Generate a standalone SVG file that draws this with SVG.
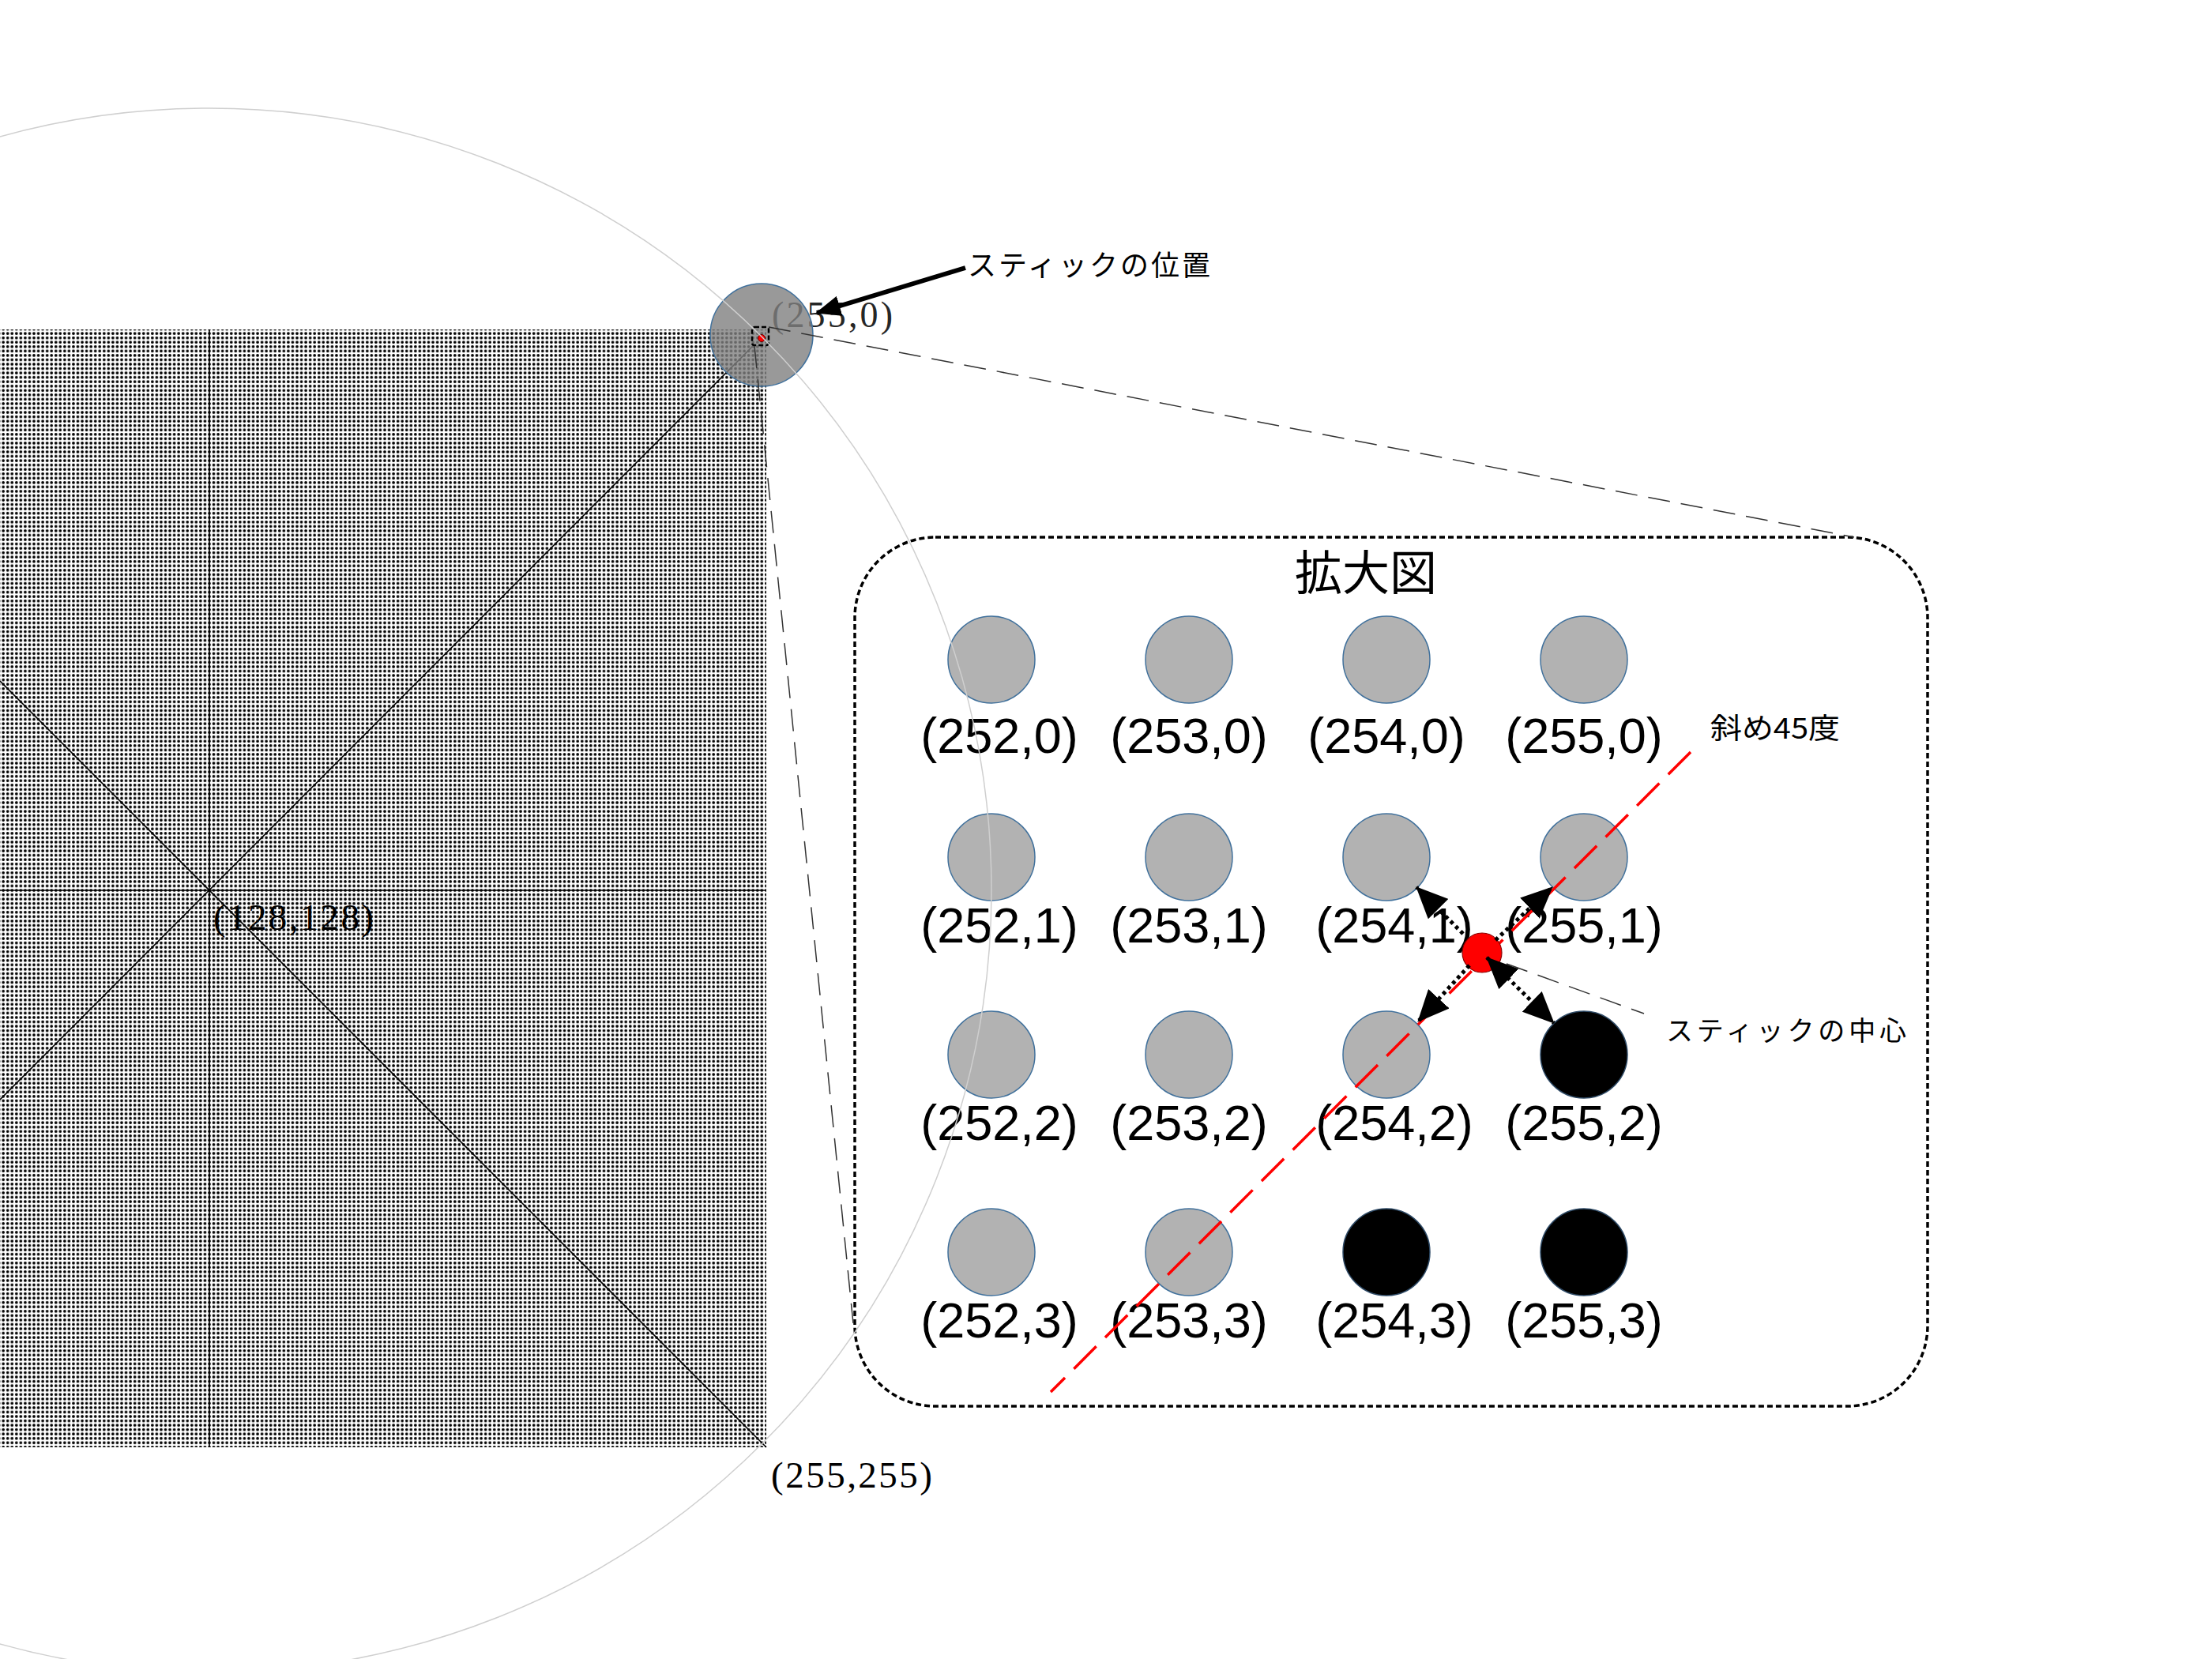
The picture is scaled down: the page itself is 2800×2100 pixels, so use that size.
<svg xmlns="http://www.w3.org/2000/svg" width="2800" height="2100" viewBox="0 0 2800 2100">
<style>
.serif{font-family:"Liberation Serif","Noto Sans CJK JP",serif;}
.jp{font-family:"Noto Sans CJK JP",sans-serif;fill:#000;}
.lbl{font-family:"Liberation Sans",Arial,sans-serif;font-size:63px;fill:#000;text-anchor:middle;}
.px{fill:#b2b2b2;stroke:#41719c;stroke-width:1.5;}
.pxb{fill:#000;stroke:#2e4a66;stroke-width:1.5;}
.axis{stroke:#000;stroke-width:1.6;fill:none;}
.thin-dash{stroke:#333;stroke-width:1.5;stroke-dasharray:28 14;fill:none;}
.dotarrow{stroke:#000;stroke-width:5;stroke-dasharray:4.5 4.5;fill:none;}
</style>
<defs>
<pattern id="dots" patternUnits="userSpaceOnUse" x="262.225" y="1124.225" width="5.55" height="5.55">
<circle cx="2.775" cy="2.775" r="1.85" fill="#000"/>
</pattern>
<marker id="ahBig" markerUnits="userSpaceOnUse" viewBox="0 0 32 26" markerWidth="32" markerHeight="26" refX="30" refY="13" orient="auto">
<path d="M0,0 L32,13 L0,26 Z" fill="#000"/>
</marker>
<marker id="ah" markerUnits="userSpaceOnUse" viewBox="0 0 40 36" markerWidth="40" markerHeight="36" refX="39" refY="18" orient="auto-start-reverse">
<path d="M0,0 L40,18 L0,36 Z" fill="#000"/>
</marker>
</defs>
<rect width="2800" height="2100" fill="#fff"/>

<g id="stick-range">
<rect x="-10" y="417" width="980" height="1415" fill="url(#dots)"/>
<line class="axis" x1="265" y1="417" x2="265" y2="1832"/>
<line class="axis" x1="0" y1="1127" x2="970" y2="1127"/>
<line class="axis" x1="0" y1="1392" x2="955" y2="436"/>
<line class="axis" x1="0" y1="862" x2="970" y2="1832"/>
<text class="serif" x="270" y="1177" font-size="47" textLength="203" lengthAdjust="spacing">(128,128)</text>
<text class="serif" x="976" y="1883" font-size="47" textLength="204" lengthAdjust="spacing">(255,255)</text>
</g>

<g id="stick-position">
<text class="serif" x="977" y="414" font-size="46" fill="#262626" textLength="153" lengthAdjust="spacing">(255,0)</text>
<circle cx="964" cy="424" r="65" fill="#808080" fill-opacity="0.8" stroke="#41719c" stroke-width="1.5"/>
<rect x="952" y="414" width="21" height="23" rx="3" fill="none" stroke="#000" stroke-width="2.5" stroke-dasharray="6 3"/>
<circle cx="964" cy="428" r="4.5" fill="#f00" stroke="#600" stroke-width="1"/>
</g>

<g id="zoom-box">
<rect x="1082" y="680" width="1358" height="1100" rx="102" ry="102" fill="none" stroke="#000" stroke-width="3.5" stroke-dasharray="7 4"/>
<text class="jp" x="1729" y="747" font-size="60" text-anchor="middle">拡大図</text>
</g>

<g id="pixels">
<g id="p252-0"><circle class="px" cx="1255" cy="835" r="55"/><text class="lbl" x="1265" y="953">(252,0)</text></g>
<g id="p253-0"><circle class="px" cx="1505" cy="835" r="55"/><text class="lbl" x="1505" y="953">(253,0)</text></g>
<g id="p254-0"><circle class="px" cx="1755" cy="835" r="55"/><text class="lbl" x="1755" y="953">(254,0)</text></g>
<g id="p255-0"><circle class="px" cx="2005" cy="835" r="55"/><text class="lbl" x="2005" y="953">(255,0)</text></g>

<g id="p252-1"><circle class="px" cx="1255" cy="1085" r="55"/><text class="lbl" x="1265" y="1193">(252,1)</text></g>
<g id="p253-1"><circle class="px" cx="1505" cy="1085" r="55"/><text class="lbl" x="1505" y="1193">(253,1)</text></g>
<g id="p254-1"><circle class="px" cx="1755" cy="1085" r="55"/><text class="lbl" x="1765" y="1193">(254,1)</text></g>
<g id="p255-1"><circle class="px" cx="2005" cy="1085" r="55"/><text class="lbl" x="2005" y="1193">(255,1)</text></g>

<g id="p252-2"><circle class="px" cx="1255" cy="1335" r="55"/><text class="lbl" x="1265" y="1443">(252,2)</text></g>
<g id="p253-2"><circle class="px" cx="1505" cy="1335" r="55"/><text class="lbl" x="1505" y="1443">(253,2)</text></g>
<g id="p254-2"><circle class="px" cx="1755" cy="1335" r="55"/><text class="lbl" x="1765" y="1443">(254,2)</text></g>
<g id="p255-2"><circle class="pxb" cx="2005" cy="1335" r="55"/><text class="lbl" x="2005" y="1443">(255,2)</text></g>

<g id="p252-3"><circle class="px" cx="1255" cy="1585" r="55"/><text class="lbl" x="1265" y="1693">(252,3)</text></g>
<g id="p253-3"><circle class="px" cx="1505" cy="1585" r="55"/><text class="lbl" x="1505" y="1693">(253,3)</text></g>
<g id="p254-3"><circle class="pxb" cx="1755" cy="1585" r="55"/><text class="lbl" x="1765" y="1693">(254,3)</text></g>
<g id="p255-3"><circle class="pxb" cx="2005" cy="1585" r="55"/><text class="lbl" x="2005" y="1693">(255,3)</text></g>
</g>

<g id="diagonal-45">
<line x1="2140" y1="952" x2="1330" y2="1762" stroke="#f00" stroke-width="3.5" stroke-dasharray="40 16"/>
<text class="jp" x="2165" y="935" font-size="36" textLength="164" lengthAdjust="spacingAndGlyphs">斜め45度</text>
</g>

<g id="stick-center">
<circle cx="1876" cy="1206" r="25" fill="#f00" stroke="#8b0000" stroke-width="1.2"/>
<text class="jp" x="2109" y="1317" font-size="34" textLength="304" lengthAdjust="spacing">スティックの中心</text>
</g>

<g id="connectors">
<line class="thin-dash" x1="973" y1="414" x2="2347" y2="680"/>
<line class="thin-dash" x1="955" y1="438" x2="1080" y2="1675"/>
<line class="thin-dash" x1="1907" y1="1220" x2="2081" y2="1283"/>
<line x1="1222" y1="339" x2="1034" y2="396" stroke="#000" stroke-width="6" marker-end="url(#ahBig)"/>
<line class="dotarrow" x1="1852" y1="1182" x2="1793" y2="1123" marker-end="url(#ah)"/>
<line class="dotarrow" x1="1893" y1="1190" x2="1965" y2="1123" marker-end="url(#ah)"/>
<line class="dotarrow" x1="1860" y1="1222" x2="1795" y2="1293" marker-end="url(#ah)"/>
<line class="dotarrow" x1="1882" y1="1212" x2="1967" y2="1295" marker-start="url(#ah)" marker-end="url(#ah)"/>
</g>

<g id="stick-label">
<text class="jp" x="1225" y="349" font-size="36" textLength="307" lengthAdjust="spacing">スティックの位置</text>
</g>

<g id="stick-circle">
<circle cx="265" cy="1127" r="990" fill="none" stroke="#cfcfcf" stroke-width="1.5"/>
</g>
</svg>
